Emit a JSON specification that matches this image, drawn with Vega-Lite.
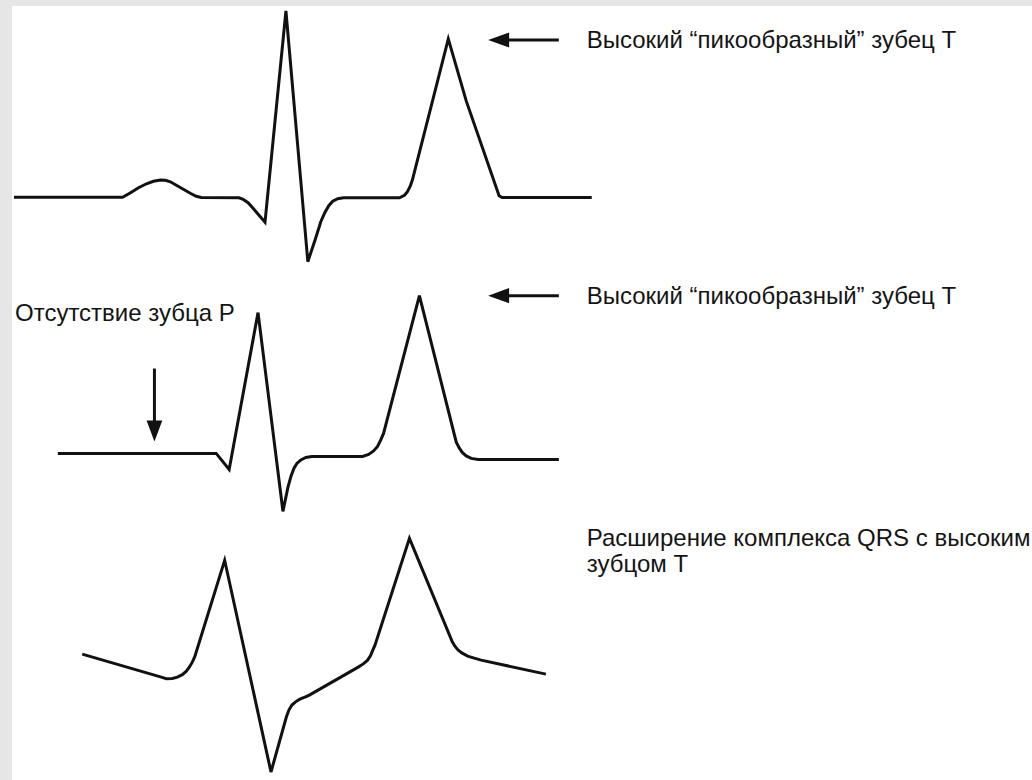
{
  "$schema": "https://vega.github.io/schema/vega-lite/v6.json",
  "width": 1032,
  "height": 780,
  "autosize": {"type": "fit", "contains": "padding"},
  "padding": {"left": 8, "top": 5, "right": 0, "bottom": 0},
  "background": "#e6e6e6",
  "config": {"view": {"stroke": null, "fill": "#ffffff"}},
  "encoding": {
    "x": {"field": "x", "type": "quantitative", "axis": null, "scale": {"domain": [8, 1032], "nice": false, "zero": false}},
    "y": {"field": "y", "type": "quantitative", "axis": null, "scale": {"domain": [5, 780], "reverse": true, "nice": false, "zero": false}}
  },
  "layer": [
    {
      "data": {"values": [
        {"t":"A","i":1,"x":10,"y":196.5},{"t":"A","i":2,"x":119,"y":196.5},{"t":"A","i":3,"x":127,"y":192},{"t":"A","i":4,"x":135,"y":187},{"t":"A","i":5,"x":143,"y":183},{"t":"A","i":6,"x":150,"y":180.5},{"t":"A","i":7,"x":157,"y":179.3},{"t":"A","i":8,"x":162,"y":179.5},{"t":"A","i":9,"x":167,"y":181},{"t":"A","i":10,"x":173,"y":184.5},{"t":"A","i":11,"x":180,"y":188.5},{"t":"A","i":12,"x":187,"y":192.5},{"t":"A","i":13,"x":193,"y":195.5},{"t":"A","i":14,"x":198,"y":196.7},{"t":"A","i":15,"x":236,"y":197},{"t":"A","i":16,"x":240,"y":198.5},{"t":"A","i":17,"x":245,"y":202},{"t":"A","i":18,"x":250,"y":207.5},{"t":"A","i":19,"x":256,"y":214.5},{"t":"A","i":20,"x":262,"y":221.5},{"t":"A","i":21,"x":283,"y":10},{"t":"A","i":22,"x":305,"y":261},{"t":"A","i":23,"x":312,"y":240},{"t":"A","i":24,"x":318,"y":221},{"t":"A","i":25,"x":322,"y":212},{"t":"A","i":26,"x":326,"y":205},{"t":"A","i":27,"x":330,"y":200.5},{"t":"A","i":28,"x":335,"y":198},{"t":"A","i":29,"x":341,"y":197},{"t":"A","i":30,"x":397,"y":197},{"t":"A","i":31,"x":402,"y":194.5},{"t":"A","i":32,"x":405,"y":191},{"t":"A","i":33,"x":408,"y":185},{"t":"A","i":34,"x":410,"y":179},{"t":"A","i":35,"x":446,"y":38},{"t":"A","i":36,"x":464,"y":100},{"t":"A","i":37,"x":497,"y":195},{"t":"A","i":38,"x":500,"y":196.7},{"t":"A","i":39,"x":590,"y":196.7},
        {"t":"B","i":1,"x":54,"y":453},{"t":"B","i":2,"x":213,"y":453},{"t":"B","i":3,"x":226,"y":469},{"t":"B","i":4,"x":255,"y":312},{"t":"B","i":5,"x":280,"y":511},{"t":"B","i":6,"x":285,"y":487},{"t":"B","i":7,"x":288,"y":476},{"t":"B","i":8,"x":291,"y":468},{"t":"B","i":9,"x":294,"y":463},{"t":"B","i":10,"x":298,"y":459.5},{"t":"B","i":11,"x":303,"y":457},{"t":"B","i":12,"x":309,"y":456},{"t":"B","i":13,"x":360,"y":456},{"t":"B","i":14,"x":366,"y":454},{"t":"B","i":15,"x":371,"y":450.5},{"t":"B","i":16,"x":375,"y":446},{"t":"B","i":17,"x":378,"y":440},{"t":"B","i":18,"x":381,"y":433},{"t":"B","i":19,"x":417,"y":295},{"t":"B","i":20,"x":454,"y":441.7},{"t":"B","i":21,"x":457,"y":447.5},{"t":"B","i":22,"x":460,"y":452},{"t":"B","i":23,"x":464,"y":455.5},{"t":"B","i":24,"x":469,"y":458},{"t":"B","i":25,"x":476,"y":459},{"t":"B","i":26,"x":557,"y":459},
        {"t":"C","i":1,"x":78.5,"y":654},{"t":"C","i":2,"x":157,"y":676.7},{"t":"C","i":3,"x":163,"y":678.5},{"t":"C","i":4,"x":169,"y":678.3},{"t":"C","i":5,"x":174,"y":677},{"t":"C","i":6,"x":179,"y":674.5},{"t":"C","i":7,"x":183,"y":671},{"t":"C","i":8,"x":186,"y":667},{"t":"C","i":9,"x":189,"y":662},{"t":"C","i":10,"x":191.5,"y":656.5},{"t":"C","i":11,"x":221.5,"y":560},{"t":"C","i":12,"x":268,"y":772},{"t":"C","i":13,"x":283.5,"y":716.7},{"t":"C","i":14,"x":286,"y":710},{"t":"C","i":15,"x":289,"y":705},{"t":"C","i":16,"x":293,"y":701.5},{"t":"C","i":17,"x":297,"y":699},{"t":"C","i":18,"x":302,"y":697},{"t":"C","i":19,"x":306.5,"y":695},{"t":"C","i":20,"x":356,"y":666.7},{"t":"C","i":21,"x":361,"y":663.5},{"t":"C","i":22,"x":365,"y":660},{"t":"C","i":23,"x":368,"y":655.5},{"t":"C","i":24,"x":370,"y":650.5},{"t":"C","i":25,"x":372.4,"y":645},{"t":"C","i":26,"x":407,"y":538},{"t":"C","i":27,"x":450,"y":641.7},{"t":"C","i":28,"x":453,"y":646.5},{"t":"C","i":29,"x":456,"y":650},{"t":"C","i":30,"x":460,"y":653},{"t":"C","i":31,"x":465.5,"y":656},{"t":"C","i":32,"x":472,"y":658},{"t":"C","i":33,"x":479,"y":660},{"t":"C","i":34,"x":544,"y":674}
      ]},
      "mark": {"type": "line", "stroke": "#111111", "strokeWidth": 3},
      "encoding": {
        "detail": {"field": "t", "type": "nominal"},
        "order": {"field": "i", "type": "quantitative"}
      }
    },
    {
      "data": {"values": [
        {"x": 505, "x2": 557, "y": 39, "y2": 39},
        {"x": 505, "x2": 557, "y": 295, "y2": 295},
        {"x": 151, "x2": 151, "y": 368, "y2": 421}
      ]},
      "mark": {"type": "rule", "stroke": "#111111", "strokeWidth": 3},
      "encoding": {
        "x2": {"field": "x2"},
        "y2": {"field": "y2"}
      }
    },
    {
      "data": {"values": [
        {"x": 486, "y": 39, "dir": "left"},
        {"x": 486, "y": 295, "dir": "left"},
        {"x": 151, "y": 441, "dir": "down"}
      ]},
      "mark": {"type": "point", "filled": true, "fill": "#111111", "opacity": 1, "size": 441, "strokeWidth": 0},
      "encoding": {
        "shape": {"field": "dir", "type": "nominal", "legend": null, "scale": {"domain": ["left", "down"], "range": ["M0,0L2,-0.72L2,0.72Z", "M0,0L-0.75,-2L0.75,-2Z"]}}
      }
    },
    {
      "data": {"values": [
        {"x": 585, "y": 47, "label": "Высокий “пикообразный” зубец T"},
        {"x": 585, "y": 303, "label": "Высокий “пикообразный” зубец T"},
        {"x": 11, "y": 320, "label": "Отсутствие зубца P"},
        {"x": 585, "y": 546, "label": "Расширение комплекса QRS с высоким"},
        {"x": 585, "y": 572, "label": "зубцом T"}
      ]},
      "mark": {"type": "text", "align": "left", "baseline": "alphabetic", "font": "Liberation Sans", "fontSize": 24, "fill": "#141414"},
      "encoding": {
        "text": {"field": "label", "type": "nominal"}
      }
    }
  ]
}
